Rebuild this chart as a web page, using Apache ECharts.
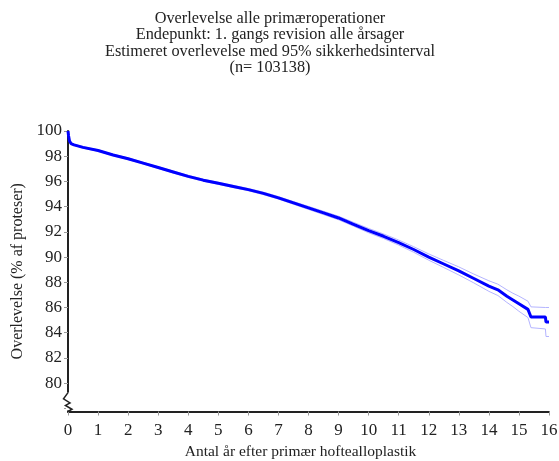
<!DOCTYPE html>
<html><head><meta charset="utf-8">
<script src="https://cdn.jsdelivr.net/npm/echarts@6/dist/echarts.min.js"></script>
<style>html,body{margin:0;padding:0;background:#fff}#c{width:559px;height:461px}</style>
</head><body><div id="c"></div>
<script>
const titleLines = ["Overlevelse alle primæroperationer","Endepunkt: 1. gangs revision alle årsager","Estimeret overlevelse med 95% sikkerhedsinterval","(n= 103138)"];
const xName = "Antal år efter primær hoftealloplastik";
const yName = "Overlevelse (% af proteser)";
const xTicks = [0,1,2,3,4,5,6,7,8,9,10,11,12,13,14,15,16];
const yTickValues = [78,80,82,84,86,88,90,92,94,96,98,100];
const yLabelValues = [80,82,84,86,88,90,92,94,96,98,100];
const years    = [0,0.02,0.05,0.1,0.2,0.5,1,1.5,2,2.5,3,3.5,4,4.5,5,5.5,6,6.5,7,7.5,8,8.5,9,9.5,10,10.5,11,11.5,12,12.5,13,13.5,14,14.3,14.6,14.8,15,15.3,15.4,15.88,15.9,16];
const survival = [100,99.6,99.2,99.0,98.9,98.7,98.45,98.1,97.8,97.45,97.1,96.75,96.4,96.1,95.85,95.6,95.35,95.05,94.7,94.3,93.9,93.5,93.1,92.6,92.1,91.65,91.15,90.6,90.0,89.45,88.9,88.3,87.7,87.4,86.9,86.6,86.3,85.85,85.25,85.25,84.85,84.85];
const lowerCI  = [100,99.55,99.15,98.95,98.85,98.64,98.39,98.04,97.73,97.38,97.03,96.67,96.32,96.02,95.77,95.51,95.26,94.95,94.6,94.19,93.78,93.37,92.96,92.45,91.93,91.47,90.95,90.38,89.75,89.17,88.58,87.95,87.28,86.95,86.4,86.07,85.7,85.2,84.4,84.3,83.7,83.7];
const upperCI  = [100,99.65,99.25,99.05,98.95,98.76,98.51,98.16,97.87,97.52,97.17,96.83,96.48,96.18,95.93,95.69,95.44,95.15,94.8,94.41,94.02,93.63,93.24,92.75,92.27,91.83,91.35,90.82,90.25,89.73,89.22,88.65,88.12,87.85,87.4,87.13,86.9,86.5,86.05,86.0,86.0,86.0];

const zip = (a,b)=>a.map((v,i)=>[v,b[i]]);
const font = "Liberation Serif";
const chart = echarts.init(document.getElementById('c'), null, {renderer:'canvas'});
chart.setOption({
  animation:false,
  title:{text:titleLines.join('\n'), left:265, top:5, textAlign:'center',
    textStyle:{fontFamily:font,fontSize:16.3,fontWeight:'normal',color:'#222',lineHeight:16.5}},
  grid:{left:68, right:10, top:131, bottom:49.5, outerBoundsMode:'none', containLabel:false},
  xAxis:{type:'value', min:0, max:16, interval:1,
    name:xName, nameLocation:'middle', nameGap:22,
    nameTextStyle:{fontFamily:font,fontSize:15.5,color:'#222',padding:[0,16,0,0]},
    axisLine:{lineStyle:{color:'#222',width:2}},
    axisTick:{show:true,length:4,lineStyle:{color:'#999'}},
    axisLabel:{fontFamily:font,fontSize:17,color:'#222',margin:11},
    splitLine:{show:false}},
  yAxis:{type:'value', min:77.75, max:100,
    name:yName, nameLocation:'middle', nameGap:38,
    nameTextStyle:{fontFamily:font,fontSize:16,color:'#222'},
    axisLine:{show:true,lineStyle:{color:'#222',width:2}},
    axisTick:{show:true,length:4,customValues:yTickValues,lineStyle:{color:'#999'}},
    axisLabel:{fontFamily:font,fontSize:17,color:'#222',margin:6,customValues:yLabelValues},
    splitLine:{show:false}},
  series:[
    {type:'line',data:zip(years,lowerCI),showSymbol:false,lineStyle:{color:'#b4b4ff',width:1},z:1},
    {type:'line',data:zip(years,upperCI),showSymbol:false,lineStyle:{color:'#b4b4ff',width:1},z:1},
    {type:'line',data:zip(years,survival),showSymbol:false,lineStyle:{color:'#0000ff',width:3},z:3}
  ]
});
const p0 = chart.convertToPixel({gridIndex:0},[0,79.25]);
const p1 = chart.convertToPixel({gridIndex:0},[0,77.75]);
const ax = p0[0], ty = p0[1], by = p1[1];
const h = by - ty;
chart.setOption({graphic:[
  {type:'rect',z:100,shape:{x:ax-2,y:ty,width:4,height:h-1},style:{fill:'#fff'}},
  {type:'polyline',z:101,shape:{points:[[ax,ty],[ax-4.5,ty+h*0.33],[ax+2,ty+h*0.55],[ax-2.5,ty+h*0.68],[ax+4,ty+h*0.88],[ax,by]]},
   style:{stroke:'#222',lineWidth:1.5,fill:null}}
]});
</script></body></html>
